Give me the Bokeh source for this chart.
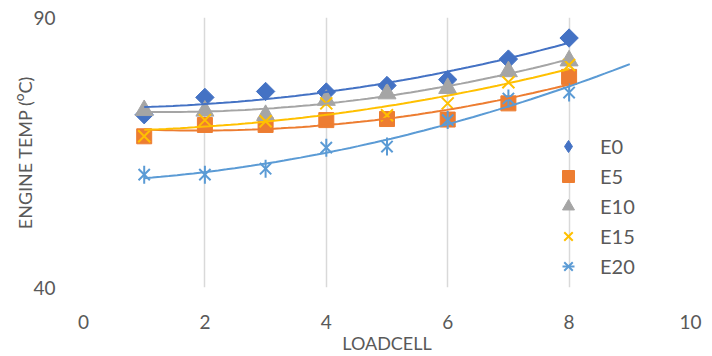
import numpy as np
from bokeh.plotting import figure
from bokeh.models import FixedTicker, Legend, LegendItem, Range1d
from bokeh.embed import file_html
from bokeh.resources import INLINE

loadcell = [1, 2, 3, 4, 5, 6, 7, 8]
e0 = [72.0, 75.2, 76.3, 76.2, 77.4, 78.5, 82.3, 86.2]
e5 = [68.0, 70.1, 70.1, 71.0, 71.2, 71.1, 74.1, 79.0]
e10 = [72.8, 72.7, 71.9, 74.7, 75.9, 76.9, 80.0, 82.0]
e15 = [68.0, 71.0, 70.8, 74.1, 71.9, 74.1, 78.0, 81.2]
e20 = [60.9, 60.9, 62.0, 65.9, 66.1, 71.0, 75.0, 76.1]
x_ticks = [0, 2, 4, 6, 8, 10]
y_ticks = [40, 90]

FONT = "Lato"
TXT = "#595959"
GRID = "#d9d9d9"

p = figure(width=712, height=356, output_backend="svg", toolbar_location=None,
           x_range=Range1d(0, 10), y_range=Range1d(40, 90),
           min_border_left=83, min_border_right=22, min_border_top=17, min_border_bottom=64)
p.outline_line_color = None
p.background_fill_color = "white"

for ax in (p.xaxis[0], p.yaxis[0]):
    ax.axis_line_color = None
    ax.major_tick_line_color = None
    ax.minor_tick_line_color = None
    ax.major_label_text_font = FONT
    ax.major_label_text_font_size = "19px"
    ax.major_label_text_color = TXT
    ax.axis_label_text_font = FONT
    ax.axis_label_text_font_size = "18px"
    ax.axis_label_text_color = TXT
    ax.axis_label_text_font_style = "normal"

p.xaxis.ticker = FixedTicker(ticks=x_ticks)
p.yaxis.ticker = FixedTicker(ticks=y_ticks)
p.xaxis.axis_label = "LOADCELL"
p.yaxis.axis_label = "ENGINE TEMP (\u1d3cC)"
p.xaxis.major_label_standoff = 21
p.yaxis.major_label_standoff = 22
p.xaxis.axis_label_standoff = 0
p.yaxis.axis_label_standoff = -6

p.xgrid.grid_line_color = GRID
p.xgrid.grid_line_width = 1.5
p.ygrid.grid_line_color = GRID
p.ygrid.grid_line_width = 1.5

colors = {"E0": "#4472C4", "E5": "#ED7D31", "E10": "#A5A5A5", "E15": "#FFC000", "E20": "#5B9BD5"}
series = [("E0", e0), ("E5", e5), ("E10", e10), ("E15", e15), ("E20", e20)]

rend = {}
# legend glyph for E0 (hidden under the rotated squares in the plot)
rend["E0"] = [p.scatter(loadcell, e0, marker="diamond", size=10, color=colors["E0"])]
p.scatter(loadcell, e0, marker="square", angle=np.pi / 4, size=13, color=colors["E0"])
rend["E5"] = [p.scatter(loadcell, e5, marker="square", size=15, color=colors["E5"])]
rend["E10"] = [p.scatter(loadcell, e10, marker="triangle", size=18, color=colors["E10"])]
rend["E15"] = [p.scatter(loadcell, e15, marker="x", size=17, line_color=colors["E15"], line_width=2)]
rend["E20"] = [p.scatter(loadcell, e20, marker="x", size=16, line_color=colors["E20"], line_width=2),
               p.scatter(loadcell, e20, marker="dash", angle=np.pi / 2, size=18,
                         line_color=colors["E20"], line_width=2)]

xa = np.array(loadcell, dtype=float)
for name, vals in series:
    coef = np.polyfit(xa, np.array(vals), 2)
    xend = 9.0 if name == "E20" else 8.0
    xs = np.linspace(1.0, xend, 60)
    p.line(xs, np.polyval(coef, xs), line_color=colors[name], line_width=2)

items = [LegendItem(label=name, renderers=rend[name]) for name, _ in series]

legend = Legend(items=items, location=(467, 6), orientation="vertical",
                glyph_width=36, glyph_height=30, spacing=0, padding=0, margin=0,
                label_standoff=14, label_text_font=FONT, label_text_font_size="20px",
                label_text_color=TXT, background_fill_alpha=0, border_line_color=None)
p.add_layout(legend, "center")

open("out.html", "w").write(file_html(p, INLINE))
